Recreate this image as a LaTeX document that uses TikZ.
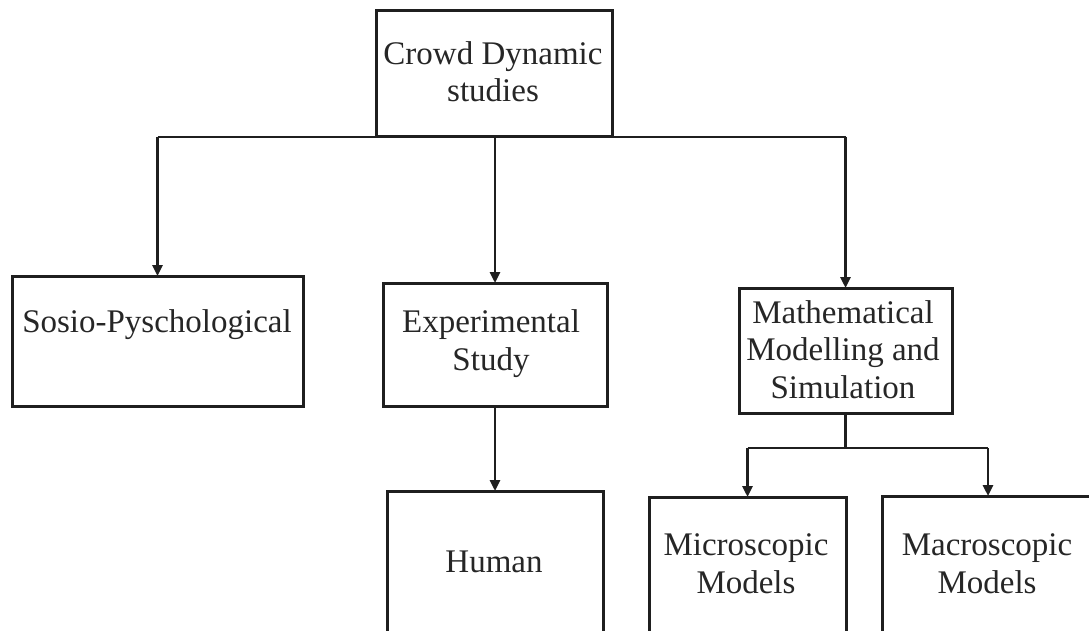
\documentclass[tikz,border=0pt]{standalone}
\usepackage{fontspec}
\setmainfont{Liberation Serif}
\usetikzlibrary{arrows.meta}
\begin{document}
\begin{tikzpicture}[x=1pt,y=-1pt,
  box/.style={draw=black!88, line width=3pt, inner sep=0pt, outer sep=0pt, anchor=north west},
  lbl/.style={font=\fontsize{33}{37.5}\selectfont, align=center, anchor=base, inner sep=0pt, text=black!85},
  link/.style={draw=black!88, line width=2.6pt},
  arr/.style={link, -{Triangle[length=11pt,width=10pt]}}]
\useasboundingbox (0,0) rectangle (1089,631);
\clip (0,0) rectangle (1089,631);

% boxes
\node[box, minimum width=236pt, minimum height=126pt] (top)   at (376,11)  {};
\node[box, minimum width=291pt, minimum height=130pt] (sosio) at (12,276)  {};
\node[box, minimum width=224pt, minimum height=123pt] (exp)   at (383,283) {};
\node[box, minimum width=213pt, minimum height=125pt] (math)  at (739,288) {};
\node[box, minimum width=216pt, minimum height=149pt] (human) at (387,491) {};
\node[box, minimum width=197pt, minimum height=143pt] (micro) at (649,497) {};
\node[box, minimum width=212pt, minimum height=144pt] (macro) at (882,496) {};

% labels (base anchor sits on the last line)
\node[lbl] (ttop)   at (493,102) {Crowd Dynamic\\studies};
\node[lbl] (tsosio) at (157,332) {Sosio-Pyschological};
\node[lbl] (texp)   at (491,370) {Experimental\\Study};
\node[lbl] (tmath)  at (843,398) {Mathematical\\Modelling and\\Simulation};
\node[lbl] (thuman) at (494,572) {Human};
\node[lbl] (tmicro) at (746,593) {Microscopic\\Models};
\node[lbl] (tmacro) at (987,593) {Macroscopic\\Models};

% first level branches
\draw[link] (sosio.north |- top.south) -- (math.north |- top.south);
\draw[arr] (sosio.north |- top.south) -- (sosio.north);
\draw[arr] (exp.north |- top.south) -- (exp.north);
\draw[arr] (math.north |- top.south) -- (math.north);

% experimental study
\draw[arr] (exp.south) -- (human.north);

% modelling split
\coordinate (split) at (845,448);
\draw[link] (math.south) -- (math.south |- split);
\draw[link] (micro.north |- split) -- (macro.north |- split);
\draw[arr] (micro.north |- split) -- (micro.north);
\draw[arr] (macro.north |- split) -- (macro.north);
\end{tikzpicture}
\end{document}
